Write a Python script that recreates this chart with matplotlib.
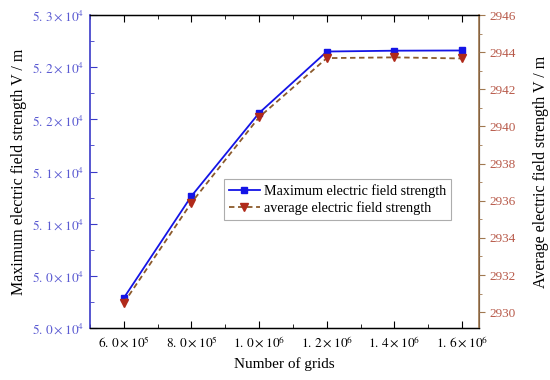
import matplotlib
matplotlib.use("Agg")
import matplotlib.pyplot as plt
import matplotlib.ticker as mticker
from matplotlib.lines import Line2D

# data
grids = [6.0e5, 8.0e5, 1.0e6, 1.2e6, 1.4e6, 1.6e6]
max_field = [50288, 51265, 52061, 52650, 52658, 52660]
avg_field = [2930.5, 2935.9, 2940.5, 2943.68, 2943.72, 2943.66]

x_ticks = [6.0e5, 8.0e5, 1.0e6, 1.2e6, 1.4e6, 1.6e6]
x_tick_labels = [("6", "0", 5), ("8", "0", 5), ("1", "0", 6),
                 ("1", "2", 6), ("1", "4", 6), ("1", "6", 6)]
left_ticks = [50000, 50500, 51000, 51500, 52000, 52500, 53000]
left_tick_labels = [("5", "0"), ("5", "0"), ("5", "1"), ("5", "1"),
                    ("5", "2"), ("5", "2"), ("5", "3")]
right_ticks = [2930, 2932, 2934, 2936, 2938, 2940, 2942, 2944, 2946]

C_MAX = "#1414e6"
C_AVG_LINE = "#8b5a2b"
C_AVG_MK = "#b02a1a"
C_LEFT = "#3a3ac8"
C_LEFT_TXT = "#5a5ad2"
C_RIGHT = "#a07850"
C_RIGHT_TXT = "#b85a4a"

plt.rcParams["font.family"] = ["Liberation Serif", "DejaVu Serif"]
plt.rcParams["mathtext.fontset"] = "stix"


def sci(a, b, e):
    return rf"$\mathrm{{{a}.\,{b}}}\times\mathrm{{10}}^{{{e}}}$"


fig = plt.figure(figsize=(5.5, 3.8), dpi=100)
ax = fig.add_axes([0.1636, 0.1368, 0.7074, 0.8237])
ax2 = ax.twinx()

ax.plot(grids, max_field, color=C_MAX, lw=1.3, marker="s", ms=5,
        mfc=C_MAX, mec=C_MAX, zorder=4)
ax2.plot(grids, avg_field, color=C_AVG_LINE, lw=1.3, ls=(0, (3, 2)),
         marker="v", ms=6, mfc=C_AVG_MK, mec=C_AVG_MK, zorder=3)

ax.set_xlim(5.0e5, 1.65e6)
ax.set_ylim(50000, 53000)
ax2.set_ylim(2929.15, 2946)

# x axis
ax.set_xticks(x_ticks)
ax.set_xticklabels([sci(a, b, e) for a, b, e in x_tick_labels], fontsize=9.5)
ax.xaxis.set_minor_locator(mticker.MultipleLocator(1e5))
ax.tick_params(axis="x", which="both", direction="in", top=True)
ax.tick_params(axis="x", which="major", length=5, pad=5)
ax.tick_params(axis="x", which="minor", length=3)
ax.set_xlabel("Number of grids", fontsize=11, labelpad=5)

# left axis
ax.set_yticks(left_ticks)
ax.set_yticklabels([sci(a, b, 4) for a, b in left_tick_labels],
                   fontsize=9.5, color=C_LEFT_TXT)
ax.yaxis.set_minor_locator(mticker.MultipleLocator(250))
ax.tick_params(axis="y", which="both", direction="in", color=C_LEFT)
ax.tick_params(axis="y", which="major", length=5, pad=4)
ax.tick_params(axis="y", which="minor", length=3)
ax.spines["left"].set_color(C_LEFT)
ax.spines["left"].set_linewidth(1.2)
ax.set_ylabel("Maximum electric field strength V / m", fontsize=11.5, labelpad=4)

# right axis
ax2.set_yticks(right_ticks)
ax2.tick_params(axis="y", which="major", labelsize=9.5, labelcolor=C_RIGHT_TXT,
                color=C_RIGHT, direction="out", length=4)
ax2.yaxis.set_minor_locator(mticker.MultipleLocator(1))
ax2.tick_params(axis="y", which="minor", color=C_RIGHT, direction="out", length=2.5)
ax2.spines["right"].set_color(C_RIGHT)
ax2.spines["right"].set_linewidth(1.2)
ax2.spines["left"].set_visible(False)
ax2.set_ylabel("Average electric field strength V / m", fontsize=11.5, labelpad=12)

ax.spines["top"].set_linewidth(1.0)
ax.spines["bottom"].set_linewidth(1.0)

handles = [
    Line2D([], [], color=C_MAX, lw=1.3, marker="s", ms=5, mfc=C_MAX, mec=C_MAX),
    Line2D([], [], color=C_AVG_LINE, lw=1.3, ls=(0, (3, 2)), marker="v", ms=6,
           mfc=C_AVG_MK, mec=C_AVG_MK),
]
leg = ax2.legend(handles, ["Maximum electric field strength",
                           "average electric field strength"],
                 loc="lower left", bbox_to_anchor=(0.344, 0.345),
                 fontsize=10.2, frameon=True, fancybox=False, edgecolor="#999999",
                 handlelength=2.2, handletextpad=0.3, borderpad=0.35,
                 labelspacing=0.25, borderaxespad=0)
leg.get_frame().set_linewidth(0.8)

fig.savefig("out.png", dpi=100, facecolor="white")
